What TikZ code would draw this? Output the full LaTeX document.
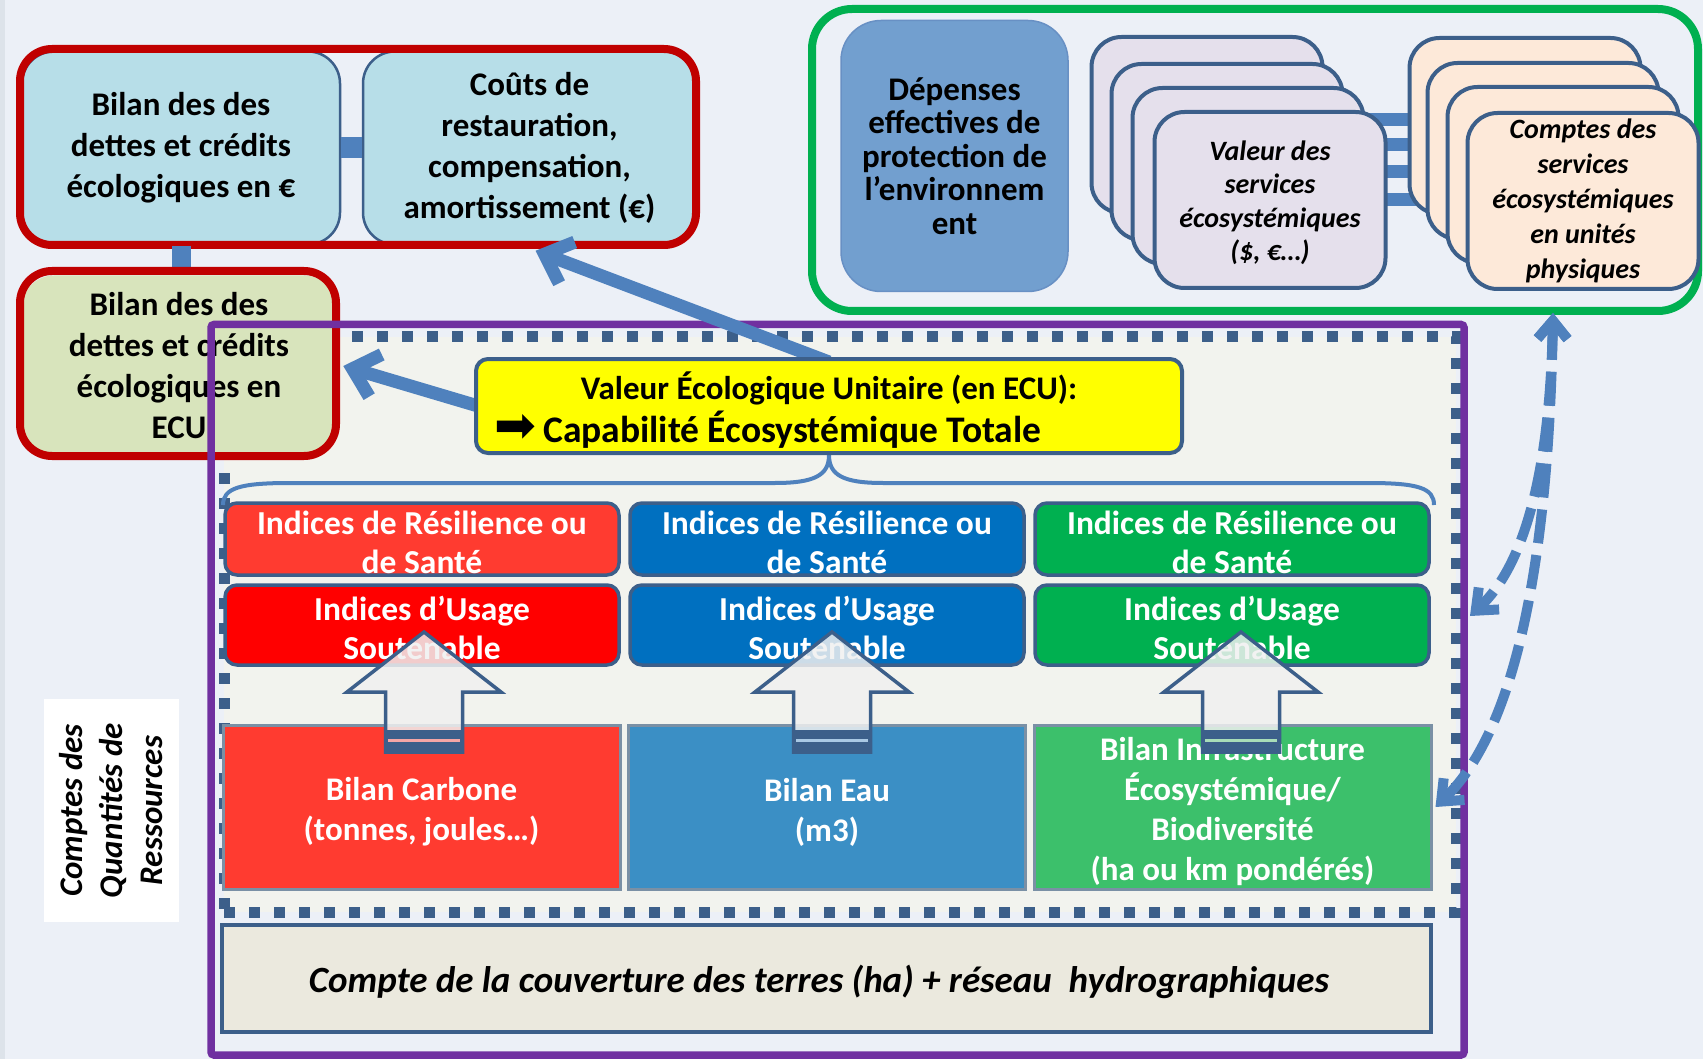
\documentclass[tikz,border=0pt]{standalone}
\usepackage{fontspec}
\setmainfont{Carlito}
\newfontfamily\symfont{DejaVu Sans}
\usetikzlibrary{arrows.meta}
\definecolor{bgc}{HTML}{ECF0F7}
\definecolor{edgec}{HTML}{DDE3EA}
\definecolor{redframe}{HTML}{C00000}
\definecolor{ltblue}{HTML}{B7DEE8}
\definecolor{olive}{HTML}{D8E4BC}
\definecolor{dkblue}{HTML}{3C5F8A}
\definecolor{midblue}{HTML}{4F81BD}
\definecolor{purp}{HTML}{7030A0}
\definecolor{dotfill}{HTML}{F2F3EE}
\definecolor{grn}{HTML}{00B050}
\definecolor{depfill}{HTML}{729FCF}
\definecolor{depdraw}{HTML}{6890C4}
\definecolor{lav}{HTML}{E5E0EC}
\definecolor{peach}{HTML}{FDE9D9}
\definecolor{redA}{HTML}{FF3B30}
\definecolor{redB}{HTML}{FF0000}
\definecolor{blueA}{HTML}{0070C0}
\definecolor{blueC}{HTML}{3B8FC5}
\definecolor{greenC}{HTML}{3CC06B}
\definecolor{beige}{HTML}{EBE9DE}
\definecolor{grayb}{HTML}{7A90A5}
\definecolor{redlt}{HTML}{F4A6A6}
\definecolor{bluelt}{HTML}{A9C8E4}
\definecolor{greenlt}{HTML}{A8DDB8}
\definecolor{yel}{HTML}{FFFF00}
\definecolor{arrowfill}{HTML}{F0F0F0}
\tikzset{
  topbox/.style={draw=dkblue, line width=2.5, rounded corners=32, inner sep=0pt, align=center,
     font=\bfseries\fontsize{33}{41}\selectfont},
  redgrp/.style={draw=redframe, line width=8, rounded corners=32, inner sep=0pt},
  linkbar/.style={draw=midblue},
  stackbox/.style={draw=dkblue, line width=4, rounded corners=30, inner sep=0pt,
     minimum width=231, minimum height=176, align=center,
     font=\bfseries\itshape\fontsize{28}{34}\selectfont},
  idxbox/.style={draw=dkblue, line width=3.5, rounded corners=12, inner sep=0pt,
     minimum width=394},
  idxtext/.style={inner sep=0pt, align=center, text=white,
     font=\bfseries\fontsize{33.5}{39}\selectfont},
  bilbox/.style={draw=grayb, line width=3, inner sep=0pt, minimum width=397, minimum height=164},
  biltext/.style={inner sep=0pt, align=center, text=white,
     font=\bfseries\fontsize{33}{40}\selectfont},
  solidarrow/.style={draw=midblue, line width=13, -{Straight Barb[length=24, width=44]}},
  dasharrow/.style={draw=midblue, line width=10, dash pattern=on 34 off 12,
     {Straight Barb[length=18, width=30]}-{Straight Barb[length=18, width=30]}}
}
\begin{document}
\begin{tikzpicture}[x=1pt,y=-1pt]
\useasboundingbox (0,0) rectangle (1703,1059);
\fill[bgc] (0,0) rectangle (1703,1059);
\fill[edgec] (0,0) rectangle (5,1059);

% dotted frame
\node[draw=dkblue, fill=dotfill, line width=11, dash pattern=on 11 off 14,
      minimum width=1232, minimum height=575, inner sep=0pt] (dotted) at (840,624.5) {};

% top-left group
\node[topbox, fill=ltblue, minimum width=318, minimum height=193] (boxA) at (181,148)
  {Bilan des des\\dettes et crédits\\écologiques en €};
\node[topbox, fill=ltblue, minimum width=333, minimum height=193] (boxB) at (529.5,148)
  {Coûts de\\restauration,\\compensation,\\amortissement (€)};
\draw[linkbar, line width=21] (boxA.east) -- (boxB.west);
\node[redgrp, minimum width=676, minimum height=196] (grp1) at (358,147) {};
\draw[linkbar, line width=19] (boxA.south) -- (boxA.south |- 0,272);
\node[topbox, fill=olive, draw=none, minimum width=314, minimum height=181] (boxC) at (179,366)
  {Bilan des des\\dettes et crédits\\écologiques en\\ECU};
\node[redgrp, minimum width=316, minimum height=185] (grp3) at (178,363.5) {};

% purple frame
\node[draw=purp, line width=7.5, rounded corners=3, minimum width=1253, minimum height=730.5,
      inner sep=0pt] (purple) at (837.5,689.75) {};

% top-right green group
\node[draw=grn, line width=8, rounded corners=40, minimum width=886, minimum height=302,
      inner sep=0pt] (grp2) at (1255,160) {};
\node[fill=depfill, draw=depdraw, line width=1.5, rounded corners=40, minimum width=227,
      minimum height=271, inner sep=0pt, align=center,
      font=\bfseries\fontsize{33}{33.5}\selectfont] (dep) at (954.5,156)
  {Dépenses\\effectives de\\protection de\\l’environnem\\ent};
\node[stackbox, fill=lav] (lav1) at (1207,125) {};
\node[stackbox, fill=lav] (lav2) at (1227,152) {};
\node[stackbox, fill=lav] (lav3) at (1248,176) {};
\draw[linkbar, line width=13] ([yshift=5]lav1.east) -- ([yshift=5]lav1.east -| 1440,0);
\draw[linkbar, line width=13] ([yshift=7]lav2.east) -- ([yshift=7]lav2.east -| 1460,0);
\draw[linkbar, line width=13] ([yshift=4]lav3.east) -- ([yshift=4]lav3.east -| 1480,0);
\draw[linkbar, line width=13] (1380,200) -- (1500,200);
\node[stackbox, fill=lav] (lav4) at (1270,200) {};
\node[inner sep=0pt, align=center, font=\bfseries\itshape\fontsize{28}{33.5}\selectfont] (lav4t)
  at (1270,203) {Valeur des\\services\\écosystémiques\\(\$, €…)};
\node[stackbox, fill=peach] (peach1) at (1525,126) {};
\node[stackbox, fill=peach] (peach2) at (1543,151) {};
\node[stackbox, fill=peach] (peach3) at (1563,175) {};
\node[stackbox, fill=peach, font=\bfseries\itshape\fontsize{28}{35}\selectfont] (peach4) at (1583,201)
  {Comptes des\\services\\écosystémiques\\en unités\\physiques};

% brace
\draw[midblue, line width=4] (223,505) .. controls (223,488) and (240,483) .. (290,483)
  -- (775,483) .. controls (815,483) and (829,475) .. (829,455)
  .. controls (829,475) and (843,483) .. (883,483) -- (1368,483)
  .. controls (1418,483) and (1434,488) .. (1434,505);

% indices rows
\node[idxbox, fill=redA, minimum height=72] (res1) at (422,539) {};
\node[idxbox, fill=blueA, minimum height=72] (res2) at (827,539) {};
\node[idxbox, fill=grn, minimum height=72] (res3) at (1232,539) {};
\node[idxbox, fill=redB, minimum height=80] (use1) at (422,625) {};
\node[idxbox, fill=blueA, minimum height=80] (use2) at (827,625) {};
\node[idxbox, fill=grn, minimum height=80] (use3) at (1232,625) {};
\foreach \n in {1,2,3} {
  \node[idxtext] (res\n t) at ([yshift=-3]res\n.center) {Indices de Résilience ou\\de Santé};
  \node[idxtext] (use\n t) at ([yshift=-3]use\n.center) {Indices d’Usage\\Soutenable};
}

% bilan row
\node[bilbox, fill=redA] (bil1) at (421.5,807) {};
\node[bilbox, fill=blueC] (bil2) at (827,807) {};
\node[bilbox, fill=greenC] (bil3) at (1232.5,807) {};
\node[biltext] (bil1t) at ([yshift=-5]bil1.center) {Bilan Carbone\\(tonnes, joules…)};
\node[biltext] (bil2t) at ([yshift=-5]bil2.center) {Bilan Eau\\(m3)};
\node[biltext] (bil3t) at ([yshift=-5]bil3.center) {Bilan Infrastructure\\Écosystémique/\\Biodiversité\\(ha ou km pondérés)};

% hollow arrows
\foreach \cx/\lc in {424/redlt, 832/bluelt, 1241/greenlt} {
  \filldraw[fill=arrowfill, fill opacity=0.85, draw=dkblue, line width=3.5, line join=miter]
    (\cx,632) -- ++(77,60) -- ++(-38.5,0) -- ++(0,60) -- ++(-77,0) -- ++(0,-60) -- ++(-38.5,0) -- cycle;
  \fill[dkblue] (\cx-38.5,730) rectangle (\cx+38.5,753.5);
  \draw[\lc, line width=3] (\cx-36,740) -- (\cx+36,740);
}

% bottom box
\node[draw=dkblue, fill=beige, line width=4, minimum width=1209, minimum height=107, inner sep=0pt]
  (land) at (826.5,978.5) {};
\node[inner sep=0pt, font=\bfseries\itshape\fontsize{37}{40}\selectfont] (landt) at (819,982)
  {Compte de la couverture des terres (ha) + réseau~~hydrographiques};

% rotated label
\node[fill=white, rotate=90, minimum width=223, minimum height=135, inner sep=0pt, align=center,
      font=\bfseries\itshape\fontsize{33}{40}\selectfont] (qty) at (111.5,810.5)
  {Comptes des\\Quantités de\\Ressources};

% solid arrows
\draw[solidarrow] (829,362) -- ([xshift=6,yshift=-5]boxB.south);
\draw[solidarrow] (478,406) -- ([xshift=6]boxC.east);

% yellow box
\node[draw=dkblue, fill=yel, line width=4, rounded corners=12, minimum width=706, minimum height=94,
      inner sep=0pt] (yellow) at (829,406) {};
\node[font=\bfseries\fontsize{33}{36}\selectfont, inner sep=0pt] (ylab1) at (829,388)
  {Valeur Écologique Unitaire (en ECU):};
\node[font=\symfont\fontsize{50}{52}\selectfont, inner sep=0pt] (yarr) at (515,428) {➡};
\node[font=\bfseries\fontsize{37.5}{40}\selectfont, inner sep=0pt, anchor=base west] (ylab2) at (543,442)
  {Capabilité Écosystémique Totale};

% dashed double arrows
\coordinate (dtop) at (1553,313);
\coordinate (dA) at (1470,616);
\draw[dasharrow] (dtop) .. controls (1550,470) and (1525,565) .. (dA);
\draw[dasharrow] (dtop) .. controls (1548,600) and (1505,740) .. ([xshift=3]bil3.east);
\end{tikzpicture}
\end{document}
